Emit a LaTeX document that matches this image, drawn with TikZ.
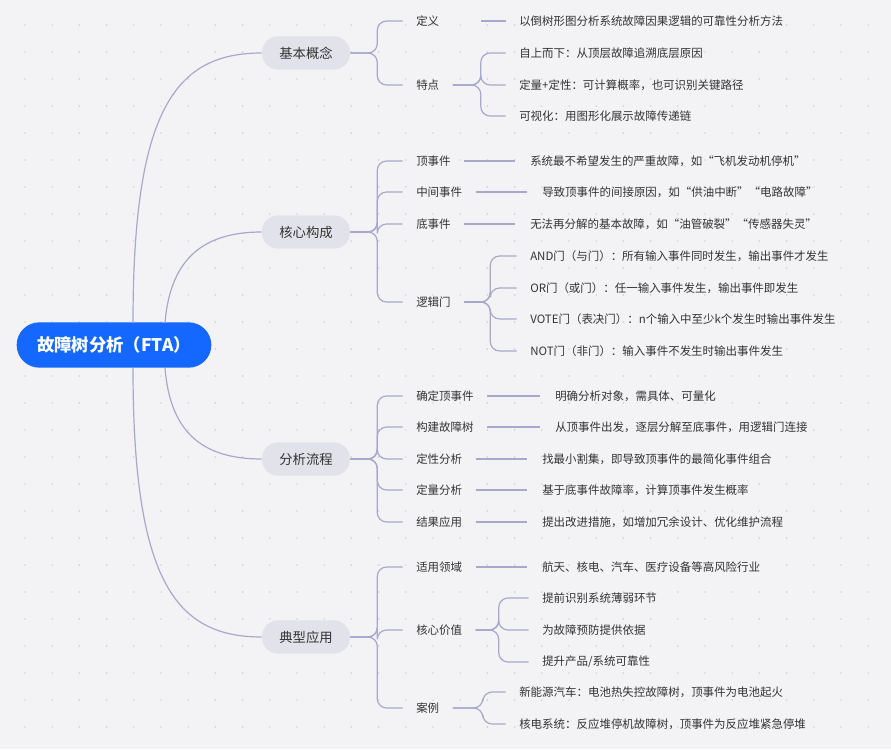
\documentclass[tikz,border=0pt]{standalone}
\usepackage{fontspec}
\setmainfont{Noto Sans CJK SC}
\usepackage{tikz}
\usetikzlibrary{positioning}
\definecolor{bgc}{HTML}{F3F3F6}
\definecolor{dotc}{HTML}{D2D2DA}
\definecolor{linec}{HTML}{A9A7CC}
\definecolor{topicc}{HTML}{E2E2EA}
\definecolor{rootc}{HTML}{1467FF}
\definecolor{txtc}{HTML}{333333}

\tikzset{
  root/.style={fill=rootc, text=white, font=\fontsize{13pt}{15pt}\selectfont\bfseries, rounded corners=17pt, minimum width=146pt, minimum height=34pt},
  topic/.style={fill=topicc, text=txtc, font=\fontsize{10pt}{12pt}\selectfont, rounded corners=12pt, minimum width=66pt, minimum height=25pt},
  leaf/.style={text=txtc, font=\fontsize{8.6pt}{10pt}\selectfont, inner sep=0pt, anchor=west},
  conn/.style={draw=linec, line width=0.9pt, rounded corners=7pt},
}

\begin{document}
\begin{tikzpicture}[x=0.75pt, y=-0.75pt]
\useasboundingbox[fill=bgc] (0,0) rectangle (891,749);
\foreach \i in {0,...,32} \foreach \j in {0,...,27}
  \fill[dotc] (25+27.2*\i, 25+27*\j) circle (0.7pt);

% root and topics
\node[root] (fta) at (114,345) {故障树分析（FTA）};
\node[topic] (k1) at (306,53)  {基本概念};
\node[topic] (k2) at (306,232) {核心构成};
\node[topic] (k3) at (306,459) {分析流程};
\node[topic] (k4) at (306,637) {典型应用};

\coordinate (ra) at (133,323);
\coordinate (rb) at (165,323);
\coordinate (rc) at (165,368);
\coordinate (rd) at (133,368);
\draw[conn] (ra) .. controls (133,110) and (175,53) .. (k1.west);
\draw[conn] (rb) .. controls (170,262) and (200,232) .. (k2.west);
\draw[conn] (rc) .. controls (170,430) and (200,459) .. (k3.west);
\draw[conn] (rd) .. controls (133,580) and (175,637) .. (k4.west);

% basic concept
\node[leaf] (dy) at (416,21) {定义};
\node[leaf] (td) at (416,85) {特点};
\node[leaf] (dy1) at (519,21) {以倒树形图分析系统故障因果逻辑的可靠性分析方法};
\node[leaf] (td1) at (519,53) {自上而下：从顶层故障追溯底层原因};
\node[leaf] (td2) at (519,85) {定量+定性：可计算概率，也可识别关键路径};
\node[leaf] (td3) at (519,116) {可视化：用图形化展示故障传递链};
\foreach \c in {dy,td} \draw[conn] (k1.east) -- ++(27,0) |- ([xshift=-10pt]\c.west);
\draw[conn] ([xshift=31pt]dy.east) -- ([xshift=-10pt]dy1.west);
\foreach \c in {td1,td2,td3} \draw[conn] ([xshift=10pt]td.east) -- ++(28,0) |- ([xshift=-10pt]\c.west);

% core parts
\node[leaf] (dsj) at (416,161) {顶事件};
\node[leaf] (zj)  at (416,192) {中间事件};
\node[leaf] (ds)  at (416,224) {底事件};
\node[leaf] (ljm) at (416,302) {逻辑门};
\node[leaf] (dsj1) at (530,161) {系统最不希望发生的严重故障，如“飞机发动机停机”};
\node[leaf] (zj1)  at (542,192) {导致顶事件的间接原因，如“供油中断”“电路故障”};
\node[leaf] (ds1)  at (530,224) {无法再分解的基本故障，如“油管破裂”“传感器失灵”};
\node[leaf] (m1) at (530,256) {AND门（与门）：所有输入事件同时发生，输出事件才发生};
\node[leaf] (m2) at (530,288) {OR门（或门）：任一输入事件发生，输出事件即发生};
\node[leaf] (m3) at (530,319) {VOTE门（表决门）：n个输入中至少k个发生时输出事件发生};
\node[leaf] (m4) at (530,351) {NOT门（非门）：输入事件不发生时输出事件发生};
\foreach \c in {dsj,zj,ds,ljm} \draw[conn] (k2.east) -- ++(27,0) |- ([xshift=-10pt]\c.west);
\foreach \a/\b in {dsj/dsj1,zj/zj1,ds/ds1} \draw[conn] ([xshift=10pt]\a.east) -- ([xshift=-11pt]\b.west);
\foreach \c in {m1,m2,m3,m4} \draw[conn] ([xshift=10pt]ljm.east) -- ++(26,0) |- ([xshift=-10pt]\c.west);

% process
\node[leaf] (p1) at (416,396) {确定顶事件};
\node[leaf] (p2) at (416,427) {构建故障树};
\node[leaf] (p3) at (416,459) {定性分析};
\node[leaf] (p4) at (416,490) {定量分析};
\node[leaf] (p5) at (416,522) {结果应用};
\node[leaf] (p1a) at (555,396) {明确分析对象，需具体、可量化};
\node[leaf] (p2a) at (555,427) {从顶事件出发，逐层分解至底事件，用逻辑门连接};
\node[leaf] (p3a) at (542,459) {找最小割集，即导致顶事件的最简化事件组合};
\node[leaf] (p4a) at (542,490) {基于底事件故障率，计算顶事件发生概率};
\node[leaf] (p5a) at (542,522) {提出改进措施，如增加冗余设计、优化维护流程};
\foreach \c in {p1,p2,p3,p4,p5} \draw[conn] (k3.east) -- ++(27,0) |- ([xshift=-10pt]\c.west);
\foreach \a in {p1,p2,p3,p4,p5} \draw[conn] ([xshift=10pt]\a.east) -- ([xshift=-11pt]\a a.west);

% applications
\node[leaf] (ly) at (416,567) {适用领域};
\node[leaf] (jz) at (416,630) {核心价值};
\node[leaf] (al) at (416,708) {案例};
\node[leaf] (ly1) at (542,567) {航天、核电、汽车、医疗设备等高风险行业};
\node[leaf] (jz1) at (542,598) {提前识别系统薄弱环节};
\node[leaf] (jz2) at (542,630) {为故障预防提供依据};
\node[leaf] (jz3) at (542,662) {提升产品/系统可靠性};
\node[leaf] (al1) at (519,692) {新能源汽车：电池热失控故障树，顶事件为电池起火};
\node[leaf] (al2) at (519,724) {核电系统：反应堆停机故障树，顶事件为反应堆紧急停堆};
\foreach \c in {ly,jz,al} \draw[conn] (k4.east) -- ++(27,0) |- ([xshift=-10pt]\c.west);
\draw[conn] ([xshift=10pt]ly.east) -- ([xshift=-11pt]ly1.west);
\foreach \c in {jz1,jz2,jz3} \draw[conn] ([xshift=10pt]jz.east) -- ++(23,0) |- ([xshift=-10pt]\c.west);
\foreach \c in {al1,al2} \draw[conn] ([xshift=10pt]al.east) -- ++(30,0) |- ([xshift=-10pt]\c.west);
\end{tikzpicture}
\end{document}
